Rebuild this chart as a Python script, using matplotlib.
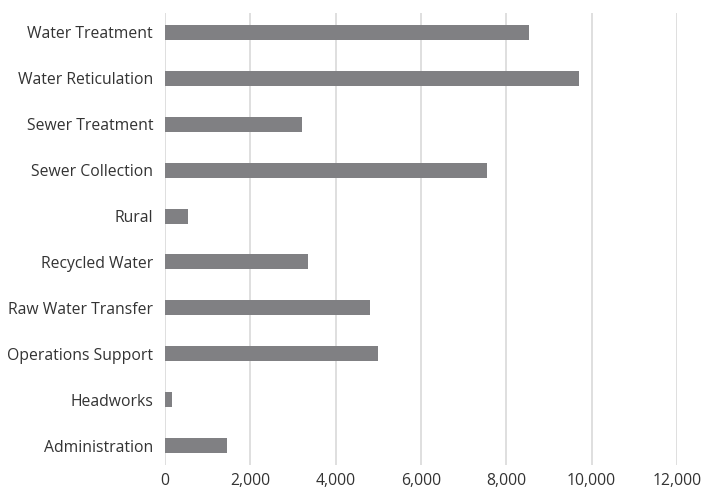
import matplotlib.pyplot as plt
from matplotlib.ticker import FuncFormatter

# categories top to bottom, as in the chart
categories = ["Water Treatment", "Water Reticulation", "Sewer Treatment", "Sewer Collection",
              "Rural", "Recycled Water", "Raw Water Transfer", "Operations Support",
              "Headworks", "Administration"]
values = [8530, 9700, 3200, 7550, 530, 3350, 4800, 5000, 160, 1450]
x_ticks = [0, 2000, 4000, 6000, 8000, 10000, 12000]

plt.rcParams['font.family'] = ['Open Sans', 'DejaVu Sans']

fig = plt.figure(figsize=(7.03, 4.94), dpi=100)
ax = fig.add_axes([165 / 703, 29 / 494, 512 / 703, 452 / 494])

pos = list(range(len(categories)))
ax.barh(pos, values, height=0.327, color="#808083", zorder=3)

ax.set_xlim(0, 12000)
ax.set_ylim(9.42, -0.42)
ax.set_xticks(x_ticks)
ax.xaxis.set_major_formatter(FuncFormatter(lambda v, p: f"{int(v):,}"))
ax.set_yticks(pos)
ax.set_yticklabels(categories)

ax.grid(axis="x", color="#d9d9d9", linewidth=1.2, zorder=0)
for s in ["top", "right", "bottom", "left"]:
    ax.spines[s].set_visible(False)
ax.tick_params(axis="both", length=0, labelsize=11.3, colors="#333333")
ax.tick_params(axis="y", pad=8.6)
ax.tick_params(axis="x", pad=6)

fig.savefig("out.png", dpi=100)
